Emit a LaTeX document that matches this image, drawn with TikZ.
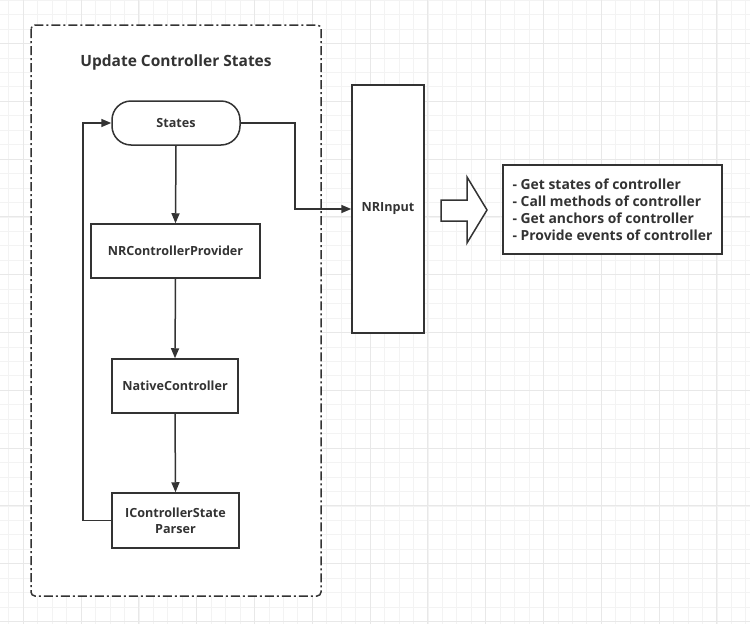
\documentclass[tikz,border=0pt]{standalone}
\usepackage{fontspec}
\setmainfont{Open Sans}
\usetikzlibrary{arrows.meta}
\definecolor{ink}{HTML}{333333}
\definecolor{gminor}{HTML}{F3F3F3}
\definecolor{gmajor}{HTML}{E8E8E8}
\tikzset{
  box/.style={draw=ink, line width=1.5pt, fill=white, rectangle, inner sep=2pt, text=ink, font=\bfseries\fontsize{12.6}{15}\selectfont},
  conn/.style={draw=ink, line width=1.5pt, -{Triangle[length=10pt,width=8pt]}},
  plain/.style={draw=ink, line width=1.5pt},
  frame/.style={draw=ink, line width=1.5pt, fill=white, rounded corners=4pt, dash pattern=on 9pt off 3pt on 2pt off 3pt},
}
\begin{document}
\begin{tikzpicture}[x=1pt,y=-1pt]
\useasboundingbox (0,0) rectangle (750,624);
\fill[white] (0,0) rectangle (750,624);
% grid
\foreach \i in {0,...,52} {
  \draw[gminor, line width=0.8pt] ({8.85+14.45*\i},0) -- ({8.85+14.45*\i},624);
}
\foreach \i in {0,...,43} {
  \draw[gminor, line width=0.8pt] (0,{0.15+14.45*\i}) -- (750,{0.15+14.45*\i});
}
\foreach \i in {0,...,12} {
  \draw[gmajor, line width=1pt] ({23.3+57.8*\i},0) -- ({23.3+57.8*\i},624);
}
\foreach \i in {0,...,10} {
  \draw[gmajor, line width=1pt] (0,{43.5+57.8*\i}) -- (750,{43.5+57.8*\i});
}
% frame
\draw[frame] (31,25) rectangle (321,596);
\node[text=ink, font=\bfseries\fontsize{15.5}{18}\selectfont] (title) at (176,62) {Update Controller States};
% nodes
\node[box, rounded corners=19pt, minimum width=128pt, minimum height=44pt] (states) at (176,123) {States};
\node[box, minimum width=169pt, minimum height=54pt] (ncp) at (175.5,251) {NRControllerProvider};
\node[box, minimum width=126pt, minimum height=54pt] (nat) at (175,386) {NativeController};
\node[box, minimum width=127pt, minimum height=55pt, align=center, font=\bfseries\fontsize{12.6}{16}\selectfont] (ipars) at (175.5,520.5) {IControllerState\\Parser};
\node[box, minimum width=72pt, minimum height=248pt] (nri) at (388,209) {NRInput};
\node[box, minimum width=219pt, minimum height=89pt, align=left, font=\bfseries\fontsize{13.9}{17}\selectfont] (list) at (612.5,209.5) {- Get states of controller\\- Call methods of controller\\- Get anchors of controller\\- Provide events of controller};
% coordinates for bends
\coordinate (lp) at (83,0);
\coordinate (rp) at (295,0);
% connectors
\draw[conn] (states.south) -- (ncp.north);
\draw[conn] (ncp.south) -- (nat.north);
\draw[conn] (nat.south) -- (ipars.north);
\draw[conn] (ipars.west) -- (ipars.west -| lp) -- (states.west -| lp) -- (states.west);
\draw[conn] (states.east) -- (states.east -| rp) -- (nri.west -| rp) -- (nri.west);
% block arrow
\draw[plain, fill=white, line join=miter] (441,200) -- (467,200) -- (467,177) -- (487,210) -- (467,243) -- (467,221) -- (441,221) -- cycle;
\end{tikzpicture}
\end{document}
